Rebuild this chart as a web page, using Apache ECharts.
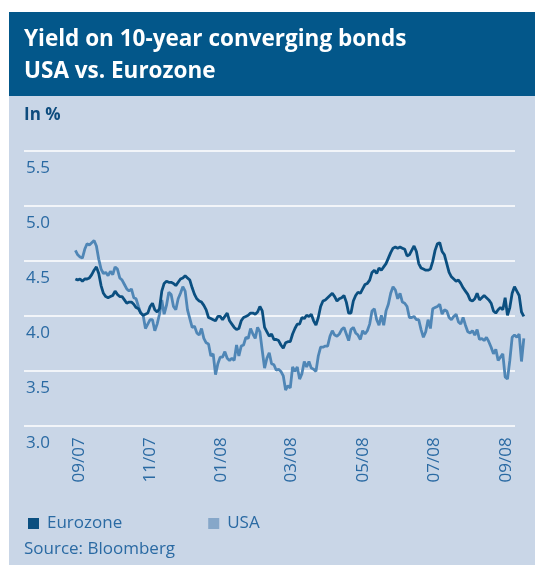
<!DOCTYPE html>
<html>
<head>
<meta charset="utf-8">
<script src="https://cdn.jsdelivr.net/npm/echarts@6/dist/echarts.min.js"></script>
<style>
html,body{margin:0;padding:0;background:#fff;}
#chart{width:535px;height:565px;}
</style>
</head>
<body>
<div id="chart"></div>
<script>
// ---- data ----
const titleLines = ['Yield on 10-year converging bonds', 'USA vs. Eurozone'];
const unitLabel = 'In %';
const sourceText = 'Source: Bloomberg';
const seriesNames = ['Eurozone', 'USA'];
const startDate = '2007-08-29';   // first observation
const stepDays = 2;               // sampling step of the readings

const eurozone = [
4.33,4.32,4.33,4.31,4.33,4.33,4.34,4.37,4.41,4.44,4.38,4.27,4.20,4.17,4.16,4.17,4.18,4.22,4.19,4.17,4.17,4.14,4.11,4.12,4.12,4.10,4.07,4.06,4.02,4.00,4.01,4.02,4.08,4.11,4.05,4.03,4.06,4.22,
4.29,4.31,4.30,4.30,4.29,4.27,4.30,4.33,4.34,4.36,4.34,4.32,4.25,4.19,4.15,4.13,4.12,4.09,4.05,3.98,3.97,3.96,3.95,3.99,3.99,3.96,3.99,4.02,3.95,3.92,3.89,3.87,3.88,3.95,3.98,3.99,4.00,4.02,
4.02,4.01,4.03,4.08,4.04,3.89,3.85,3.81,3.83,3.78,3.78,3.77,3.73,3.70,3.75,3.76,3.76,3.83,3.88,3.92,3.92,3.98,3.97,4.00,3.99,4.01,3.95,3.91,3.98,4.08,4.13,4.14,4.16,4.18,4.20,4.17,4.13,4.15,
4.16,4.18,4.12,4.02,4.02,4.13,4.18,4.21,4.20,4.24,4.28,4.29,4.32,4.39,4.41,4.38,4.43,4.41,4.44,4.47,4.52,4.57,4.61,4.62,4.61,4.62,4.61,4.60,4.54,4.55,4.59,4.63,4.58,4.47,4.43,4.42,4.41,4.41,4.42,
4.49,4.59,4.65,4.66,4.58,4.55,4.47,4.39,4.35,4.33,4.31,4.32,4.29,4.25,4.22,4.19,4.14,4.13,4.15,4.20,4.14,4.16,4.18,4.16,4.14,4.11,4.04,4.02,4.05,4.07,4.05,4.16,4.00,4.07,4.20,4.26,4.22,4.18,4.03,3.99
];
const usa = [
4.59,4.55,4.53,4.52,4.60,4.65,4.64,4.66,4.68,4.63,4.51,4.42,4.38,4.39,4.36,4.40,4.37,4.44,4.42,4.34,4.32,4.28,4.24,4.22,4.24,4.16,4.15,4.08,4.02,4.00,3.88,3.92,3.96,3.96,3.86,3.92,4.01,4.14,
4.01,4.09,4.21,4.19,4.08,4.05,4.15,4.20,4.26,4.22,4.05,3.97,3.89,3.90,3.84,3.82,3.88,3.79,3.75,3.74,3.63,3.65,3.46,3.56,3.62,3.62,3.67,3.61,3.59,3.61,3.59,3.73,3.63,3.72,3.73,3.80,3.79,3.88,
3.83,3.79,3.89,3.85,3.68,3.52,3.61,3.66,3.56,3.55,3.50,3.51,3.49,3.45,3.32,3.36,3.34,3.53,3.49,3.53,3.42,3.47,3.58,3.53,3.58,3.52,3.51,3.49,3.63,3.71,3.71,3.72,3.72,3.81,3.86,3.82,3.81,3.83,
3.87,3.89,3.83,3.77,3.87,3.89,3.84,3.82,3.78,3.86,3.83,3.86,3.92,4.04,4.06,3.96,3.91,4.00,3.91,4.04,4.10,4.20,4.26,4.23,4.15,4.20,4.12,4.11,4.08,3.98,3.98,3.99,3.96,3.96,3.87,3.80,3.85,3.96,3.88,
4.06,4.07,4.08,4.10,4.01,4.05,4.04,3.98,3.96,3.99,4.01,3.94,3.92,3.98,3.91,3.85,3.84,3.86,3.82,3.87,3.78,3.79,3.77,3.80,3.76,3.71,3.65,3.69,3.59,3.62,3.65,3.44,3.42,3.59,3.80,3.82,3.80,3.83,3.58,3.79
];
const tickDates = ['2007-09-01','2007-11-01','2008-01-01','2008-03-01','2008-05-01','2008-07-01','2008-09-01'];
const tickLabels = ['09/07','11/07','01/08','03/08','05/08','07/08','09/08'];
const yMin = 3.0, yMax = 5.5, yStep = 0.5;
const xRange = ['2007-07-16', '2008-09-17'];

// ---- build ----
const DAY = 86400000;
const ts = d => Date.parse(d + 'T00:00:00Z');
const t0 = ts(startDate);
const toPairs = arr => arr.map((v, i) => [t0 + i * stepDays * DAY, v]);
const tickTimes = tickDates.map(ts);

const DARK = '#0b4f80', MID = '#4f86b6', LEGUSA = '#86a7c9';
const TEXT = '#2a6aa3', PANEL = '#c9d6e7', BAND = '#03578a';
const FONT = '"Open Sans", "Noto Sans", sans-serif';

const chart = echarts.init(document.getElementById('chart'), null, {renderer: 'canvas'});
chart.setOption({
  backgroundColor: '#ffffff',
  animation: false,
  textStyle: {fontFamily: FONT},
  graphic: [
    {type: 'rect', z: -10, shape: {x: 9, y: 12, width: 526, height: 553}, style: {fill: PANEL}},
    {type: 'rect', z: -9, shape: {x: 9, y: 12, width: 526, height: 84}, style: {fill: BAND}},
    {type: 'text', left: 24, top: 24, style: {text: titleLines.join('\n'), fill: '#ffffff', font: 'bold 22.5px ' + FONT, lineHeight: 32}},
    {type: 'text', left: 24, top: 107, style: {text: unitLabel, fill: '#0d4c7e', font: 'bold 17px ' + FONT}},
    {type: 'text', left: 24, top: 541, style: {text: sourceText, fill: TEXT, font: '17px ' + FONT}}
  ],
  legend: {
    left: 23, top: 510, itemGap: 86, itemWidth: 11, itemHeight: 11, icon: 'rect',
    textStyle: {color: TEXT, fontSize: 17, fontFamily: FONT, padding: [0, 0, 0, 3]},
    data: seriesNames
  },
  grid: [
    {left: 24, right: 20, top: 150.3, bottom: 139.7},
    {left: 24, right: 10, top: 150.3, bottom: 139.7}
  ],
  xAxis: [
    {gridIndex: 0, type: 'value', show: false, min: 0, max: 1},
    {gridIndex: 1, type: 'value', min: ts(xRange[0]), max: ts(xRange[1]),
     axisLine: {show: false}, axisTick: {show: false}, splitLine: {show: false},
     axisLabel: {
       customValues: tickTimes, rotate: 90, margin: 12, color: TEXT, fontSize: 17, fontFamily: FONT,
       padding: [8, 0, 0, 0],
       formatter: v => { const k = tickTimes.indexOf(v); return k >= 0 ? tickLabels[k] : ''; }
     }}
  ],
  yAxis: [
    {gridIndex: 0, type: 'value', min: yMin, max: yMax, interval: yStep,
     axisLine: {show: false}, axisTick: {show: false},
     splitLine: {show: true, lineStyle: {color: '#ffffff', width: 1.5}},
     axisLabel: {inside: true, verticalAlign: 'top', align: 'left', margin: 2, padding: [9, 0, 0, 0],
       color: TEXT, fontSize: 17, fontFamily: FONT, formatter: v => v.toFixed(1)}},
    {gridIndex: 1, type: 'value', min: yMin, max: yMax, show: false}
  ],
  series: [
    {name: 'USA', type: 'line', xAxisIndex: 1, yAxisIndex: 1, data: toPairs(usa), showSymbol: false,
     itemStyle: {color: LEGUSA}, lineStyle: {color: MID, width: 2.8}, z: 2},
    {name: 'Eurozone', type: 'line', xAxisIndex: 1, yAxisIndex: 1, data: toPairs(eurozone), showSymbol: false,
     itemStyle: {color: DARK}, lineStyle: {color: DARK, width: 2.8}, z: 3}
  ]
});
</script>
</body>
</html>
